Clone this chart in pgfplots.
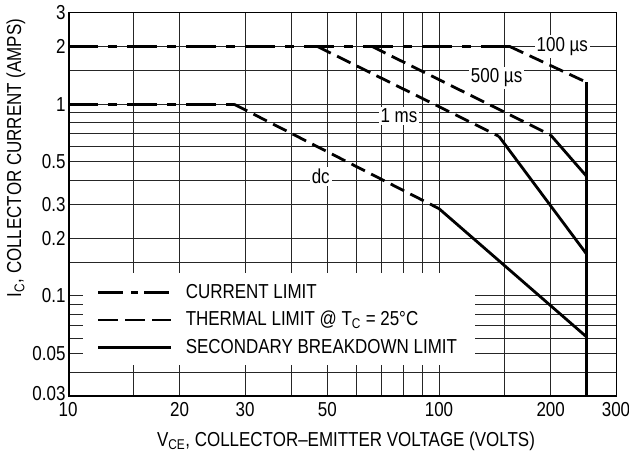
\documentclass[border=0pt]{standalone}
\usepackage{pgfplots}
\pgfplotsset{compat=1.18}
\usepackage{fontspec}
\setmainfont{Liberation Sans}[FakeStretch=0.84]
\usetikzlibrary{calc}
\newcommand{\cf}{\fontsize{20.2}{24}\selectfont}
\begin{document}
\begin{tikzpicture}
\begin{axis}[
  xmode=log, ymode=log,
  scale only axis, width=548pt, height=383.3pt,
  xmin=10, xmax=300, ymin=0.03, ymax=3,
  xtick={10,15,20,30,40,50,60,70,80,90,100,150,200,300},
  xticklabels={10,{},20,30,{},50,{},{},{},{},100,{},200,300},
  ytick={0.03,0.04,0.05,0.06,0.07,0.08,0.09,0.1,0.15,0.2,0.3,0.4,0.5,0.6,0.7,0.8,0.9,1,1.5,2,3},
  yticklabels={\raisebox{5pt}{0.03},{},0.05,{},{},{},{},0.1,{},0.2,0.3,{},0.5,{},{},{},{},1,{},2,3},
  minor xtick={}, minor ytick={},
  major tick length=0pt, minor tick length=0pt,
  grid=major,
  major grid style={black!85, line width=0.9pt},
  axis line style={line width=1pt},
  tick label style={font=\cf},
  xticklabel style={yshift=-3pt},
  yticklabel style={xshift=1pt},
  legend image code/.code={\draw[#1] (0pt,0pt) -- (73pt,0pt);},
  legend style={at={(0.0529,0.198)}, anchor=west, draw=none, fill=none,
    inner sep=0pt, row sep=8.5pt, column sep=13pt, font=\cf,
    nodes={inner sep=0pt, text height=15pt, text depth=4pt}},
  legend cell align=left,
]
\addlegendimage{line width=2.6pt, dash pattern=on 25pt off 8pt on 7pt off 6pt}
\addlegendentry{CURRENT LIMIT}
\addlegendimage{line width=2.6pt, dash pattern=on 20pt off 7pt}
\addlegendentry{THERMAL LIMIT @ T\textsubscript{C} = 25\textdegree C}
\addlegendimage{line width=2.6pt}
\addlegendentry{SECONDARY BREAKDOWN LIMIT}

\coordinate (SW) at (rel axis cs:0,0);
\coordinate (NE) at (rel axis cs:1,1);
\coordinate (YL) at (rel axis cs:0,0.621);
\coordinate (XL) at (rel axis cs:0.5,0);

\fill[white] (rel axis cs:0.0274,0.0809) rectangle (rel axis cs:0.7427,0.3209);
\node[fill=white, inner sep=2pt, font=\cf] at (axis cs:215,2) {100 µs};
\node[fill=white, inner sep=2pt, font=\cf] at (axis cs:143,1.37) {500 µs};
\node[fill=white, inner sep=2pt, font=\cf] at (axis cs:78,0.87) {1 ms};
\node[fill=white, inner sep=2pt, font=\cf] at (axis cs:48,0.42) {dc};

% current limit
\addplot[forget plot, line width=2.8pt, dash pattern=on 30pt off 10pt on 9pt off 10pt] coordinates {(10,2) (155,2)};
\addplot[forget plot, line width=2.8pt, dash pattern=on 30pt off 10pt on 9pt off 10pt] coordinates {(10,1) (28,1)};
% thermal limit
\addplot[forget plot, line width=2.8pt, dash pattern=on 15pt off 7pt] coordinates {(155,2) (250,1.3)};
\addplot[forget plot, line width=2.8pt, dash pattern=on 15pt off 7pt] coordinates {(66,2) (200,0.69)};
\addplot[forget plot, line width=2.8pt, dash pattern=on 15pt off 7pt] coordinates {(47,2) (145,0.68)};
\addplot[forget plot, line width=2.8pt, dash pattern=on 15pt off 7pt] coordinates {(28,1) (100,0.285)};
% secondary breakdown
\addplot[forget plot, line width=2.8pt] coordinates {(200,0.69) (250,0.42)};
\addplot[forget plot, line width=2.8pt] coordinates {(145,0.68) (250,0.165)};
\addplot[forget plot, line width=2.8pt] coordinates {(100,0.285) (250,0.061)};
\addplot[forget plot, line width=3.2pt] coordinates {(250,1.3) (250,0.03)};

\draw[line width=3pt] (rel axis cs:0,1) -- (rel axis cs:0,0) -- (rel axis cs:1,0);
\end{axis}
\node[rotate=90, font=\cf] at ($(YL)+(-52pt,0)$) {I\textsubscript{C}, COLLECTOR CURRENT (AMPS)};
\node[font=\cf] at ($(XL)+(4pt,-45pt)$) {V\textsubscript{CE}, COLLECTOR--EMITTER VOLTAGE (VOLTS)};
\pgfresetboundingbox
\path ($(SW)+(-68pt,-66pt)$) rectangle ($(NE)+(13pt,12.7pt)$);
\end{tikzpicture}
\end{document}
